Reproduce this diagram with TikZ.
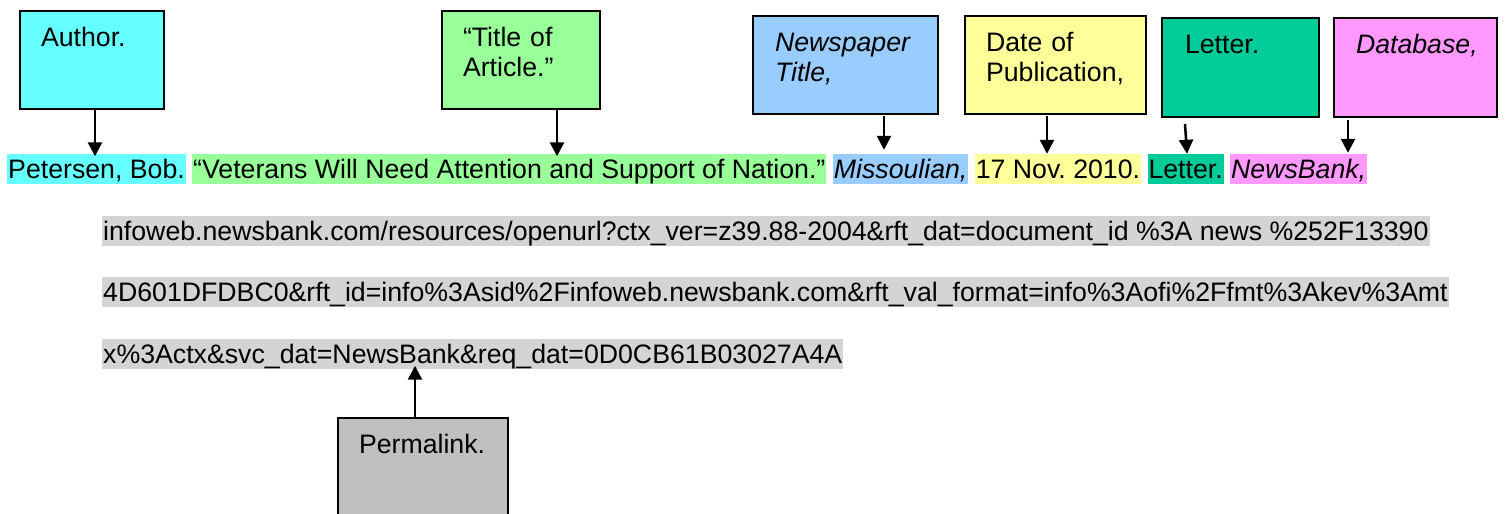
\documentclass[tikz,border=0pt]{standalone}
\usepackage{fontspec}
\setmainfont{Liberation Sans}
\usetikzlibrary{arrows.meta,calc,positioning}
\definecolor{cAuthor}{HTML}{66FFFF}
\definecolor{cTitle}{HTML}{99FF99}
\definecolor{cNews}{HTML}{99CCFF}
\definecolor{cDate}{HTML}{FFFF99}
\definecolor{cLetter}{HTML}{00CC99}
\definecolor{cDb}{HTML}{FF99FF}
\definecolor{cPerm}{HTML}{C0C0C0}
\definecolor{cUrl}{HTML}{D4D4D4}
\frenchspacing
\begin{document}
\begin{tikzpicture}[x=1pt,y=-1pt,font=\fontsize{26.7}{30}\selectfont\frenchspacing,
  hl/.style={inner xsep=1pt,inner ysep=0pt,text height=24pt,text depth=6pt,anchor=base west},
  lbl/.style={draw=black,line width=2pt,inner ysep=0pt,align=left,anchor=north west},
  arr/.style={line width=2.5pt,-{Triangle[width=14pt,length=14pt]}}]
\useasboundingbox (0,0) rectangle (1505,514);
\clip (0,0) rectangle (1505,514);

% citation line 1
\node[hl,fill=cAuthor] (pet) at (7,178) {Petersen, Bob.};
\node[hl,fill=cTitle,right=6pt of pet] (tit) {“Veterans Will Need Attention and Support of Nation.”};
\node[hl,fill=cNews,right=6pt of tit] (mis) {\itshape Missoulian,};
\node[hl,fill=cDate,right=6pt of mis] (dat) {17 Nov. 2010.};
\node[hl,fill=cLetter,right=6pt of dat] (let) {Letter.};
\node[hl,fill=cDb,right=6pt of let] (nb) {\itshape NewsBank,};

% URL lines
\node[hl,fill=cUrl] (u1) at (102,240) {infoweb.newsbank.com/resources/openurl?ctx\_ver=z39.88-2004\&rft\_dat=document\_id \%3A news \%252F13390};
\node[hl,fill=cUrl] (u2) at (102,301) {4D601DFDBC0\&rft\_id=info\%3Asid\%2Finfoweb.newsbank.com\&rft\_val\_format=info\%3Aofi\%2Ffmt\%3Akev\%3Amt};
\node[hl,fill=cUrl] (u3) at (102,363) {x\%3Actx\&svc\_dat=NewsBank\&req\_dat=0D0CB61B03027A4A};

% label boxes
\node[lbl,fill=cAuthor,inner xsep=21pt,text width=102pt,text height=35pt,text depth=63pt] (bauth) at (19,10) {Author.};
\node[lbl,fill=cTitle,inner xsep=21pt,text width=116pt,text height=35pt,text depth=63pt] (btit) at (441,10) {“Title of\\Article.”};
\node[lbl,fill=cNews,inner xsep=22pt,text width=141pt,text height=35pt,text depth=63pt] (bnews) at (752,15) {\itshape Newspaper\\\itshape Title,};
\node[lbl,fill=cDate,inner xsep=21pt,text width=139pt,text height=35pt,text depth=63pt] (bdate) at (964,15) {Date of\\Publication,};
\node[lbl,fill=cLetter,inner xsep=23pt,text width=111pt,text height=35pt,text depth=64pt] (blet) at (1161,17) {Letter.};
\node[lbl,fill=cDb,inner xsep=22pt,text width=119pt,text height=35pt,text depth=64pt] (bdb) at (1333,17) {\itshape Database,};
\node[lbl,fill=cPerm,inner xsep=21pt,text width=128pt,text height=35pt,text depth=68pt] (bperm) at (337,417) {Permalink.};

% arrow start points
\coordinate (sA) at ($(bauth.south west)+(76,0)$);
\coordinate (sT) at ($(btit.south west)+(116,0)$);
\coordinate (sN) at ($(bnews.south west)+(132,1)$);
\coordinate (sD) at ($(bdate.south west)+(83,1)$);
\coordinate (sL) at ($(blet.south west)+(24,6)$);
\coordinate (sB) at ($(bdb.south west)+(15,2)$);
\coordinate (sP) at ($(bperm.north west)+(78,0)$);

\draw[arr] (sA) -- ($(sA |- pet.north)+(0,2.5)$);
\draw[arr] (sT) -- ($(sT |- tit.north)+(0,2.5)$);
\draw[arr] (sN) -- ($(sN |- mis.north)+(0,-4)$);
\draw[arr] (sD) -- ($(sD |- dat.north)+(0,0)$);
\draw[arr] (sL) -- ($(sL |- let.north)+(2,0)$);
\draw[arr] (sB) -- ($(sB |- nb.north)+(0,-1)$);
\draw[arr] (sP) -- ($(sP |- u3.south)+(0,-3.5)$);
\end{tikzpicture}
\end{document}
